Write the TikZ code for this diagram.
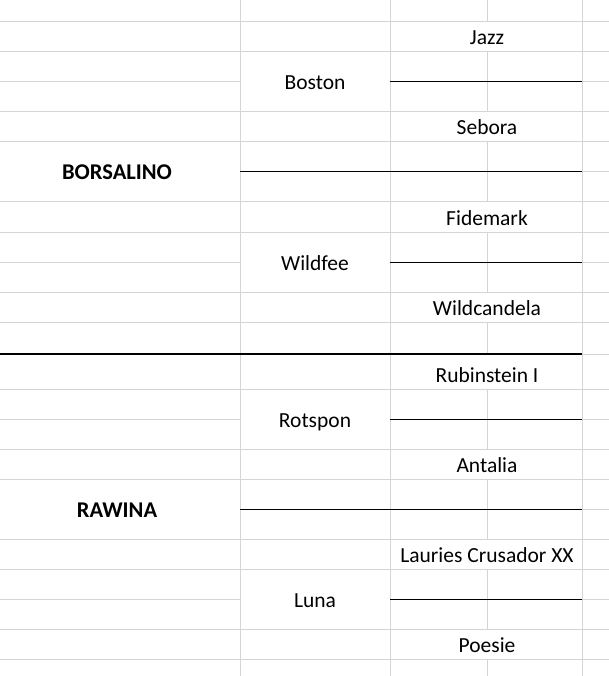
\documentclass[tikz,border=0pt]{standalone}
\usepackage{fontspec}
\setmainfont{Carlito}
\usepackage{tikz}
\usetikzlibrary{positioning}

\tikzset{
  gridline/.style={draw={rgb,255:red,212;green,212;blue,212}, line width=1pt},
  pedline/.style={draw=black, line width=1pt},
  splitline/.style={draw=black, line width=2pt},
  horse/.style={anchor=base, inner sep=0pt, font=\fontsize{21.5}{25}\selectfont},
  founder/.style={horse, font=\fontsize{22.5}{26}\selectfont\bfseries}
}

\begin{document}
\begin{tikzpicture}[x=1pt, y=-1pt]
% page
\fill[white] (0,0) rectangle (609,676);
\useasboundingbox (0,0) rectangle (609,676);
% grid rows, left column (BORSALINO and RAWINA cells merged)
\foreach \r in {22,52,82,112,142,202,232,262,292,322,354,389,419,449,479,539,569,599,629,659}
  \draw[gridline] (0,\r) -- (240,\r);
% grid rows, sire/dam column (Boston, Wildfee, Rotspon, Luna merged)
\foreach \r in {22,52,112,142,172,202,232,292,322,354,389,449,479,509,539,569,629,659}
  \draw[gridline] (240,\r) -- (390,\r);
% grid rows, grandparents and spare column
\foreach \r in {22,52,82,112,142,172,202,232,262,292,322,354,389,419,449,479,509,539,569,599,629,659}
  \draw[gridline] (390,\r) -- (609,\r);
% grid columns
\foreach \c in {240,390,582}
  \draw[gridline] (\c,0) -- (\c,676);
\foreach \a/\b in {0/22,52/112,142/202,232/292,322/354,389/449,479/539,569/629,659/676}
  \draw[gridline] (487,\a) -- (487,\b);

% names
\node[horse] (jazz) at (487,45) {Jazz};
\node[horse] (boston) at (315,90) {Boston};
\node[horse] (sebora) at (487,135) {Sebora};
\node[founder] (borsalino) at (117,180) {BORSALINO};
\node[horse] (fidemark) at (487,225) {Fidemark};
\node[horse] (wildfee) at (315,270) {Wildfee};
\node[horse] (wildcandela) at (487,315) {Wildcandela};
\node[horse] (rubinstein) at (487,382) {Rubinstein I};
\node[horse] (rotspon) at (315,427) {Rotspon};
\node[horse] (antalia) at (487,472) {Antalia};
\node[founder] (rawina) at (117,517) {RAWINA};
\node[horse] (lauries) at (487,562) {Lauries Crusador XX};
\node[horse] (luna) at (315,607) {Luna};
\node[horse] (poesie) at (487,652) {Poesie};

% pedigree lines
\draw[pedline] (390,82) -- (582,82);
\draw[pedline] (240,172) -- (582,172);
\draw[pedline] (390,262) -- (582,262);
\draw[pedline] (390,419) -- (582,419);
\draw[pedline] (240,509) -- (582,509);
\draw[pedline] (390,599) -- (582,599);
% split between the two horses
\draw[splitline] (0,354) -- (582,354);
\end{tikzpicture}
\end{document}
